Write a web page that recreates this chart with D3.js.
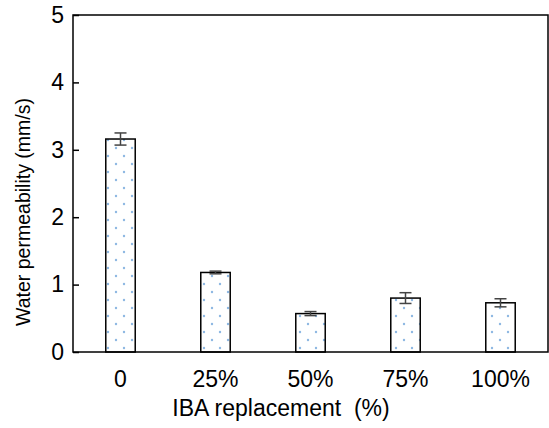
<!DOCTYPE html>
<html>
<head>
<meta charset="utf-8">
<script src="https://cdn.jsdelivr.net/npm/d3@7"></script>
<style>
  body { margin: 0; background: #fff; }
  svg { display: block; font-family: "Liberation Sans", Arial, sans-serif; }
</style>
</head>
<body>
<div id="chart"></div>
<script>
// data
const categories = ["0", "25%", "50%", "75%", "100%"];
const permeability = [3.16, 1.18, 0.57, 0.80, 0.73];
const errors = [0.09, 0.02, 0.03, 0.08, 0.06];
const yTicks = [0, 1, 2, 3, 4, 5];

const width = 549;
const height = 428;
const margin = { top: 15, right: 1, bottom: 76, left: 73 };

const svg = d3.select("#chart")
  .append("svg")
  .attr("width", width)
  .attr("height", height);

// dotted fill like the excel pattern
const defs = svg.append("defs");
const pat = defs.append("pattern")
  .attr("id", "dots")
  .attr("patternUnits", "userSpaceOnUse")
  .attr("width", 16)
  .attr("height", 16);
pat.append("rect").attr("width", 16).attr("height", 16).attr("fill", "#fff");
pat.append("circle").attr("cx", 4).attr("cy", 4).attr("r", 1.2).attr("fill", "#8db8e3");
pat.append("circle").attr("cx", 12).attr("cy", 12).attr("r", 1.2).attr("fill", "#8db8e3");

const x = d3.scaleBand()
  .domain(categories)
  .range([margin.left, width - margin.right])
  .paddingInner(0.69)
  .paddingOuter(0.345);

const y = d3.scaleLinear()
  .domain([0, 5])
  .range([height - margin.bottom, margin.top]);

// bars
svg.selectAll("rect.bar")
  .data(categories)
  .enter()
  .append("rect")
  .attr("class", "bar")
  .attr("x", d => x(d))
  .attr("y", (d, i) => y(permeability[i]))
  .attr("width", x.bandwidth())
  .attr("height", (d, i) => y(0) - y(permeability[i]))
  .attr("fill", "url(#dots)")
  .attr("stroke", "#000")
  .attr("stroke-width", 1.5);

// error bars
const capW = 6;
const eb = svg.selectAll("g.err")
  .data(categories)
  .enter()
  .append("g")
  .attr("class", "err")
  .attr("stroke", "#444")
  .attr("stroke-width", 1.5);
eb.append("line")
  .attr("x1", d => x(d) + x.bandwidth() / 2)
  .attr("x2", d => x(d) + x.bandwidth() / 2)
  .attr("y1", (d, i) => y(permeability[i] + errors[i]))
  .attr("y2", (d, i) => y(permeability[i] - errors[i]));
[1, -1].forEach(s => {
  eb.append("line")
    .attr("x1", d => x(d) + x.bandwidth() / 2 - capW)
    .attr("x2", d => x(d) + x.bandwidth() / 2 + capW)
    .attr("y1", (d, i) => y(permeability[i] + s * errors[i]))
    .attr("y2", (d, i) => y(permeability[i] + s * errors[i]));
});

// frame
svg.append("rect")
  .attr("x", margin.left)
  .attr("y", margin.top)
  .attr("width", width - margin.right - margin.left)
  .attr("height", height - margin.bottom - margin.top)
  .attr("fill", "none")
  .attr("stroke", "#000")
  .attr("stroke-width", 1.5);

// y axis, ticks inward
const yAxis = svg.append("g")
  .attr("transform", `translate(${margin.left},0)`)
  .call(d3.axisRight(y).tickValues(yTicks).tickSize(6).tickFormat(d3.format("d")));
yAxis.select(".domain").remove();
yAxis.selectAll("line").attr("stroke", "#000").attr("stroke-width", 1.5);
yAxis.selectAll("text")
  .attr("x", -9)
  .attr("text-anchor", "end")
  .attr("font-size", 23)
  .attr("fill", "#000");

// x axis labels
const xAxis = svg.append("g")
  .attr("transform", `translate(0,${height - margin.bottom})`)
  .call(d3.axisBottom(x).tickSize(0).tickPadding(19));
xAxis.select(".domain").remove();
xAxis.selectAll("text")
  .attr("font-size", 23)
  .attr("fill", "#000");

// axis titles
svg.append("text")
  .attr("x", 281)
  .attr("y", 416)
  .attr("text-anchor", "middle")
  .attr("font-size", 23)
  .attr("xml:space", "preserve")
  .text("IBA replacement  (%)");

svg.append("text")
  .attr("transform", "translate(30,212) rotate(-90)")
  .attr("text-anchor", "middle")
  .attr("font-size", 19.5)
  .text("Water permeability (mm/s)");
</script>
</body>
</html>
